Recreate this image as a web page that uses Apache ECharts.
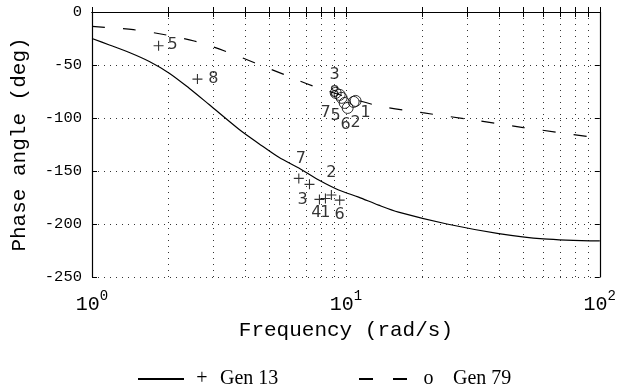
<!DOCTYPE html>
<html>
<head>
<meta charset="utf-8">
<script src="https://cdn.jsdelivr.net/npm/echarts@6/dist/echarts.min.js"></script>
<style>
  html, body { margin: 0; padding: 0; background: #fff; }
  #chart { width: 619px; height: 387px; }
</style>
</head>
<body>
<div id="chart"></div>
<script>
// solid curve (Gen 13)
const solidFreq = [1, 1.171, 1.403, 1.682, 2.015, 2.414, 2.892, 3.79, 4.545, 5.445, 6.524, 7.817, 9.366, 11.22, 13.45, 16.11, 25, 40, 60, 100];
const solidPhase = [-25, -31.1, -38.2, -46.7, -57.7, -71.9, -87.3, -110.6, -124.2, -137.1, -147.2, -158.5, -167.9, -174.6, -182.2, -188.8, -200, -209, -214, -216];

// dashed curve (Gen 79)
const dashFreq = [1, 1.455, 1.891, 2.526, 3.31, 5.75, 7.4, 12.85, 20, 30, 50, 100];
const dashPhase = [-13.6, -16.7, -21, -27.4, -36.6, -59.3, -69.7, -87.4, -95, -101, -109, -119];

// "+" points, Gen 13
const plusLabels = ['5', '8', '7', '3', '4', '1', '2', '6'];
const plusFreq = [1.829, 2.602, 6.524, 7.187, 7.866, 8.307, 8.767, 9.451];
const plusPhase = [-31.9, -63.3, -157, -162.6, -176.8, -175.9, -172.7, -177.5];

// "o" points, Gen 79
const circLabels = ['1', '2', '3', '5', '6', '7', '8'];
const circFreq = [10.92, 10.72, 9.116, 9.888, 10.16, 9.623, 9.451];
const circPhase = [-83.9, -84.8, -76.3, -85.8, -90.5, -81.0, -78.2];

// axis ticks
const xTicks = [1, 2, 3, 4, 5, 6, 7, 8, 9, 10, 20, 30, 40, 50, 60, 70, 80, 90, 100];
const xLabelTicks = [1, 10, 100];
const yMin = -250, yMax = 0, yStep = 50;

// where each number sits next to its marker (pixels)
const plusLabelOffset = [[14, -1], [16, 0], [2, -20], [-7, 15], [-3, 13], [0, 14], [0, -22], [0, 15]];
const circLabelOffset = [[10, 12], [2, 21], [-1, -18], [-9, 13], [-2, 17], [-16, 15], [-5, -2]];

const mono = 'Liberation Mono';
const serif = 'Liberation Serif';
const dotted = { type: [1, 5], color: '#333', width: 1 };

function pairs(xs, ys) {
  return xs.map((x, i) => [x, ys[i]]);
}
function points(xs, ys, names, offs) {
  return xs.map((x, i) => ({ name: names[i], value: [x, ys[i]], label: { offset: offs[i] } }));
}

const chart = echarts.init(document.getElementById('chart'));

const numLabel = {
  show: true, position: 'inside', formatter: '{b}',
  color: '#000', fontFamily: 'DejaVu Sans', fontSize: 16
};

chart.setOption({
  animation: false,
  backgroundColor: '#fff',
  grid: { left: 92, right: 17, top: 12, bottom: 110 },
  xAxis: [{
    type: 'log', logBase: 10, min: 1, max: 100,
    name: 'Frequency (rad/s)', nameLocation: 'middle', nameGap: 40,
    nameTextStyle: { fontFamily: mono, fontSize: 21, color: '#000' },
    axisLine: { lineStyle: { color: '#000', width: 1.2 } },
    axisTick: { inside: true, length: 5, customValues: xTicks, lineStyle: { color: '#000' } },
    axisLabel: {
      customValues: xLabelTicks, margin: 12,
      formatter: v => '{b|10}{e|' + Math.round(Math.log10(v)) + '}',
      rich: {
        b: { fontFamily: mono, fontSize: 20, color: '#000', lineHeight: 26, verticalAlign: 'bottom' },
        e: { fontFamily: mono, fontSize: 14, color: '#000', lineHeight: 14, verticalAlign: 'top' }
      }
    },
    splitLine: { show: true, lineStyle: dotted }
  }, {
    type: 'log', logBase: 10, min: 1, max: 100, position: 'top',
    axisLine: { lineStyle: { color: '#000', width: 1.2 } },
    axisTick: { inside: true, length: 5, customValues: xTicks, lineStyle: { color: '#000' } },
    axisLabel: { show: false },
    splitLine: { show: false }
  }],
  yAxis: [{
    type: 'value', min: yMin, max: yMax, interval: yStep,
    name: 'Phase angle (deg)', nameLocation: 'middle', nameGap: 62,
    nameTextStyle: { fontFamily: mono, fontSize: 21, color: '#000' },
    axisLine: { show: true, lineStyle: { color: '#000', width: 1.2 } },
    axisTick: { show: true, inside: true, length: 5, lineStyle: { color: '#000' } },
    axisLabel: { fontFamily: mono, fontSize: 15.5, color: '#000', margin: 10 },
    splitLine: { show: true, lineStyle: dotted }
  }, {
    type: 'value', min: yMin, max: yMax, interval: yStep, position: 'right',
    axisLine: { show: true, lineStyle: { color: '#000', width: 1.2 } },
    axisTick: { show: true, inside: true, length: 5, lineStyle: { color: '#000' } },
    axisLabel: { show: false },
    splitLine: { show: false }
  }],
  legend: [{
    data: ['Gen 13'], left: 132, top: 364, itemWidth: 46, itemHeight: 14,
    itemStyle: { opacity: 0 },
    formatter: '{p|+}{t|Gen 13}',
    textStyle: {
      fontFamily: serif, fontSize: 20, color: '#000',
      rich: { p: { width: 26, align: 'center', fontFamily: serif, fontSize: 20 },
              t: { padding: [0, 0, 0, 5], fontFamily: serif, fontSize: 20 } }
    }
  }, {
    data: ['Gen 79'], left: 353, top: 364, itemWidth: 49, itemHeight: 14,
    itemStyle: { opacity: 0 },
    formatter: '{p|o}{t|Gen 79}',
    lineStyle: { type: [14, 20] },
    textStyle: {
      fontFamily: serif, fontSize: 20, color: '#000',
      rich: { p: { width: 31, align: 'right', fontFamily: serif, fontSize: 20 },
              t: { padding: [0, 0, 0, 9], fontFamily: serif, fontSize: 20 } }
    }
  }],
  series: [{
    name: 'Gen 13', type: 'line', smooth: 0.3, symbol: 'none',
    lineStyle: { color: '#000', width: 1.2 },
    itemStyle: { color: '#000' },
    data: pairs(solidFreq, solidPhase)
  }, {
    name: 'Gen 79', type: 'line', smooth: 0.3, symbol: 'none',
    lineStyle: { color: '#000', width: 1.2, type: [13, 18] },
    itemStyle: { color: '#000' },
    data: pairs(dashFreq, dashPhase)
  }, {
    name: 'Gen 13 points', type: 'scatter',
    symbol: 'path://M0,5L10,5M5,0L5,10', symbolSize: 10,
    itemStyle: { color: 'none', borderColor: '#000', borderWidth: 1.1 },
    label: numLabel,
    data: points(plusFreq, plusPhase, plusLabels, plusLabelOffset)
  }, {
    name: 'Gen 79 points', type: 'scatter',
    symbol: 'circle', symbolSize: 11,
    itemStyle: { color: 'none', borderColor: '#000', borderWidth: 1 },
    label: numLabel,
    data: points(circFreq, circPhase, circLabels, circLabelOffset)
  }]
});
</script>
</body>
</html>
